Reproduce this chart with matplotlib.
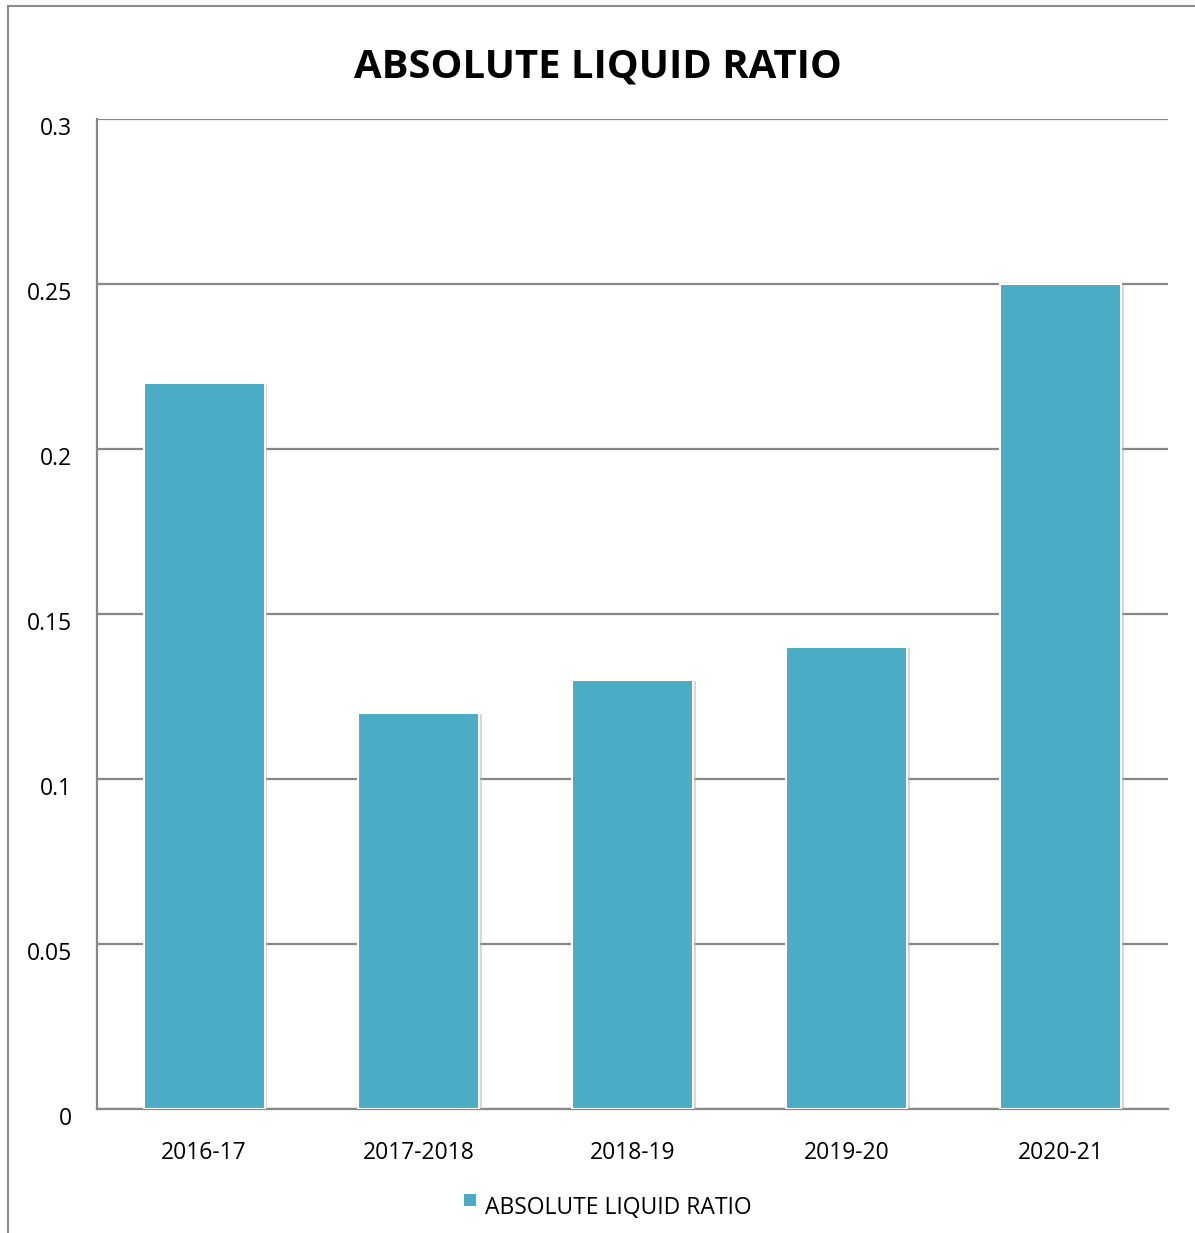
import matplotlib
matplotlib.use("Agg")
import matplotlib.pyplot as plt
from matplotlib.patches import Rectangle
from matplotlib.transforms import ScaledTranslation
import matplotlib.patheffects as pe

years = ["2016-17", "2017-2018", "2018-19", "2019-20", "2020-21"]
ratio = [0.22, 0.12, 0.13, 0.14, 0.25]
y_ticks = [0, 0.05, 0.1, 0.15, 0.2, 0.25, 0.3]
y_tick_labels = ["0", "0.05", "0.1", "0.15", "0.2", "0.25", "0.3"]
series_name = "ABSOLUTE LIQUID RATIO"

bar_color = "#4AACC5"
grid_color = "#878787"
font = ["Open Sans", "DejaVu Sans"]
label_size = 16.5

fig = plt.figure(figsize=(11.95, 12.33), dpi=100)
W, H = 1195, 1233

# outer chart frame (only left/top edges are inside the canvas)
fig.patches.append(Rectangle((8 / W, -0.1), 1.2, (1233 - 6) / H + 0.1,
                             transform=fig.transFigure, fill=False,
                             edgecolor="#8c8c8c", linewidth=1.5))

ax = fig.add_axes([97 / W, 1 - 1109 / H, (1168 - 97) / W, (1109 - 119) / H])
x = list(range(len(years)))
ax.bar(x, ratio, width=0.565, color=bar_color, edgecolor="white", linewidth=1.5,
       zorder=3,
       path_effects=[pe.SimplePatchShadow(offset=(2, -1), shadow_rgbFace="#b0b0b0", alpha=0.5),
                     pe.Normal()])

ax.set_xlim(-0.5, len(years) - 0.5)
ax.set_ylim(0, 0.3)
ax.set_yticks(y_ticks)
ax.set_yticklabels(y_tick_labels, fontfamily=font, fontsize=label_size)
ax.set_xticks(x)
ax.set_xticklabels(years, fontfamily=font, fontsize=label_size)
ax.tick_params(axis="both", length=0)
ax.tick_params(axis="y", pad=18)
ax.tick_params(axis="x", pad=23)
for lab in ax.get_yticklabels():
    lab.set_transform(lab.get_transform() + ScaledTranslation(0, -7 / 100, fig.dpi_scale_trans))

ax.yaxis.grid(True, color=grid_color, linewidth=1.6, zorder=0)
ax.set_axisbelow(True)
for side in ["top", "right"]:
    ax.spines[side].set_visible(False)
ax.spines["left"].set_color(grid_color)
ax.spines["left"].set_linewidth(1.6)
ax.spines["bottom"].set_color(grid_color)
ax.spines["bottom"].set_linewidth(1.6)

fig.text(0.5, 1 - 67 / H, "ABSOLUTE LIQUID RATIO", ha="center", va="center",
         fontfamily=font, fontweight="bold", fontsize=28.8)

# legend
fig.patches.append(Rectangle((464 / W, 1 - 1206 / H), 12 / W, 12 / H,
                             transform=fig.transFigure, facecolor=bar_color,
                             edgecolor="none"))
fig.text(485 / W, 1 - 1208 / H, series_name, ha="left", va="center",
         fontfamily=font, fontsize=label_size)

fig.savefig("out.png", dpi=100)
